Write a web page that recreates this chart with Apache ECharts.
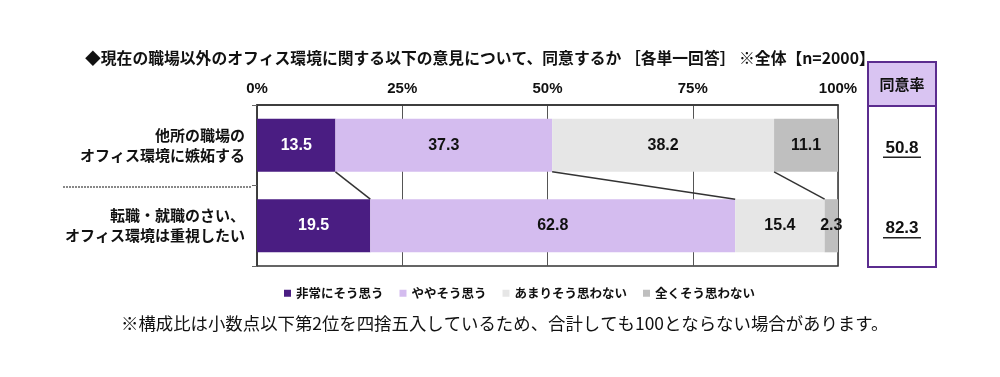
<!DOCTYPE html>
<html>
<head>
<meta charset="utf-8">
<script src="https://cdn.jsdelivr.net/npm/echarts@6/dist/echarts.min.js"></script>
<style>
  html, body { margin: 0; padding: 0; background: #fff; }
  #main { width: 1000px; height: 377px; }
</style>
</head>
<body>
<div id="main"></div>
<script>
// データ
const categories = ['他所の職場の\nオフィス環境に嫉妬する', '転職・就職のさい、\nオフィス環境は重視したい']
const seriesNames = ['非常にそう思う', 'ややそう思う', 'あまりそう思わない', '全くそう思わない']
const veryAgree = [13.5, 19.5]
const somewhatAgree = [37.3, 62.8]
const notReally = [38.2, 15.4]
const notAtAll = [11.1, 2.3]
const agreeRate = [50.8, 82.3]
const xTicks = [0, 25, 50, 75, 100]

const colors = ['#4a1d82', '#d4bcef', '#e6e6e6', '#bfbfbf']
const font = '"Noto Sans CJK JP", sans-serif'
const numFont = '"Liberation Sans", Arial, sans-serif'

const chart = echarts.init(document.getElementById('main'))

// 境界の累積値（区切り線用）
const values = [veryAgree, somewhatAgree, notReally, notAtAll]
const boundaries = []
for (let k = 0; k < 3; k++) {
  let top = 0, bottom = 0
  for (let j = 0; j <= k; j++) { top += values[j][0]; bottom += values[j][1] }
  boundaries.push([top, 0, bottom])
}

const barSeries = values.map((v, i) => ({
  name: seriesNames[i],
  type: 'bar',
  stack: 'total',
  barWidth: '66%',
  itemStyle: { color: colors[i] },
  label: {
    show: true,
    position: 'inside',
    color: i === 0 ? '#fff' : '#111',
    fontFamily: numFont,
    fontWeight: 'bold',
    fontSize: 16,
    formatter: p => p.value.toFixed(1)
  },
  data: v
}))

const option = {
  animation: false,
  title: [
    {
      text: '◆現在の職場以外のオフィス環境に関する以下の意見について、同意するか ［各単一回答］ ※全体【n=2000】',
      left: 80,
      top: 45,
      textStyle: { fontFamily: font, fontSize: 15.8, fontWeight: 'bold', color: '#111' }
    },
    {
      text: '※構成比は小数点以下第2位を四捨五入しているため、合計しても100とならない場合があります。',
      left: 116,
      top: 310,
      textStyle: { fontFamily: font, fontSize: 17.4, fontWeight: 'normal', color: '#111' }
    }
  ],
  legend: {
    data: seriesNames,
    left: 279,
    top: 282,
    itemWidth: 7,
    itemHeight: 7,
    itemGap: 16,
    icon: 'rect',
    textStyle: { fontFamily: font, fontSize: 12.5, fontWeight: 'bold', color: '#111' }
  },
  grid: [
    { left: 257, right: 162, top: 105, bottom: 111, show: true, borderColor: '#333', borderWidth: 1.5 },
    { left: 868, width: 68, top: 105, bottom: 111 }
  ],
  xAxis: [
    {
      type: 'value',
      position: 'top',
      min: 0,
      max: 100,
      interval: 25,
      axisLine: { show: true, lineStyle: { color: '#333', width: 1.5 } },
      axisTick: { show: false },
      axisLabel: {
        margin: 9,
        fontFamily: numFont,
        fontSize: 15,
        fontWeight: 'bold',
        color: '#111',
        formatter: v => xTicks.includes(v) ? v + '%' : ''
      },
      splitLine: { show: true, lineStyle: { color: '#555', width: 1 } }
    },
    { gridIndex: 1, type: 'value', min: 0, max: 1, show: false }
  ],
  yAxis: [
    {
      type: 'category',
      inverse: true,
      data: categories,
      axisLine: { show: true, lineStyle: { color: '#333', width: 1.5 } },
      axisTick: { show: true, length: 5, lineStyle: { color: '#666' } },
      axisLabel: {
        margin: 12,
        fontFamily: font,
        fontSize: 15,
        fontWeight: 'bold',
        color: '#111',
        lineHeight: 20,
        align: 'right'
      }
    },
    { gridIndex: 1, type: 'category', inverse: true, data: categories, show: false }
  ],
  series: [
    ...barSeries,
    {
      // 区切り線
      type: 'custom',
      silent: true,
      encode: { x: 0, y: 1 },
      renderItem: (params, api) => {
        const p1 = api.coord([api.value(0), 0])
        const p2 = api.coord([api.value(2), 1])
        const h = api.size([0, 1])[1] * 0.66 / 2
        return {
          type: 'line',
          shape: { x1: p1[0], y1: p1[1] + h, x2: p2[0], y2: p2[1] - h },
          style: { stroke: '#333', lineWidth: 1.5 }
        }
      },
      data: boundaries,
      z: 5
    },
    {
      // 同意率
      type: 'custom',
      xAxisIndex: 1,
      yAxisIndex: 1,
      silent: true,
      encode: { x: 0, y: 1 },
      renderItem: (params, api) => {
        const p = api.coord([0.5, api.value(1)])
        const txt = api.value(2).toFixed(1)
        return {
          type: 'group',
          children: [
            {
              type: 'text',
              x: p[0],
              y: p[1] + 3,
              style: {
                text: txt,
                align: 'center',
                verticalAlign: 'middle',
                font: 'bold 17px ' + numFont,
                fill: '#111'
              }
            },
            {
              type: 'line',
              shape: { x1: p[0] - 19, y1: p[1] + 12, x2: p[0] + 19, y2: p[1] + 12 },
              style: { stroke: '#222', lineWidth: 1.5 }
            }
          ]
        }
      },
      data: agreeRate.map((v, i) => [0.5, i, v])
    }
  ],
  graphic: [
    {
      type: 'line',
      shape: { x1: 63, y1: 187, x2: 252, y2: 187 },
      style: { stroke: '#888', lineWidth: 2, lineDash: [2, 1] }
    },
    {
      type: 'rect',
      shape: { x: 868, y: 62, width: 68, height: 205 },
      style: { fill: '#fff', stroke: '#5b2c8f', lineWidth: 2 },
      z: -1
    },
    {
      type: 'rect',
      shape: { x: 868, y: 62, width: 68, height: 44 },
      style: { fill: '#d9c4f2', stroke: '#5b2c8f', lineWidth: 2 }
    },
    {
      type: 'text',
      x: 902,
      y: 84,
      style: {
        text: '同意率',
        align: 'center',
        verticalAlign: 'middle',
        font: 'bold 15px ' + font,
        fill: '#111'
      }
    }
  ]
}

chart.setOption(option)
window.addEventListener('resize', () => {
  chart.resize()
})
</script>
</body>
</html>
